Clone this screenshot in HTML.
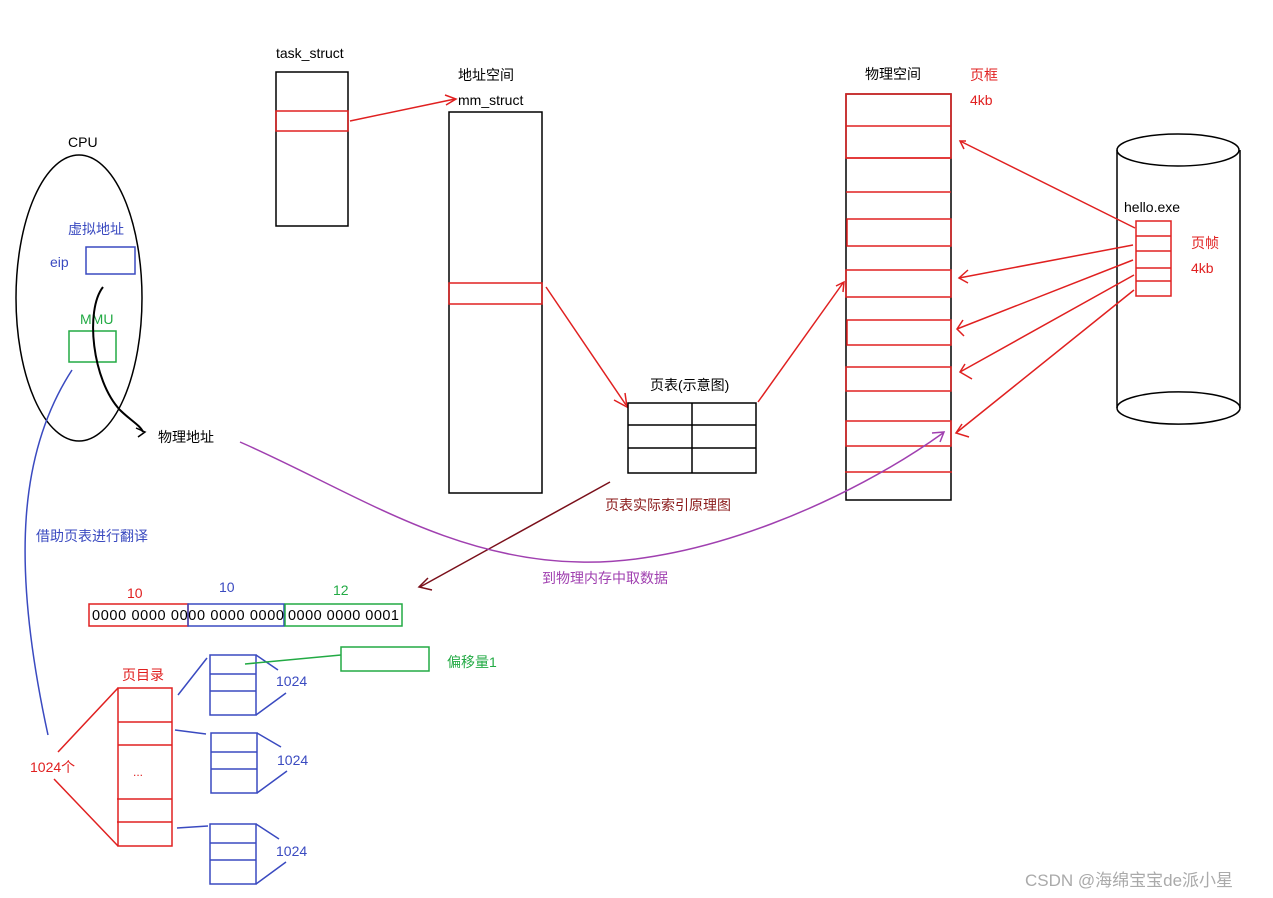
<!DOCTYPE html>
<html><head><meta charset="utf-8"><style>body{margin:0;background:#fff}svg{display:block}text{font-family:"Liberation Sans","Noto Sans CJK SC",sans-serif;font-size:14px}</style></head><body>
<svg width="1273" height="898" viewBox="0 0 1273 898" xmlns="http://www.w3.org/2000/svg">
<g fill="none" stroke-width="1.5">
<rect x="276" y="72" width="72" height="154" stroke="#000"/>
<rect x="276" y="111" width="72" height="20" stroke="#e02020"/>
<text x="276" y="58" fill="#000" stroke="none">task_struct</text>
<line x1="350" y1="121" x2="455" y2="99" stroke="#e02020"/>
<path d="M445 95 L456 99 L446 105" stroke="#e02020"/>
<text x="458" y="80" fill="#000" stroke="none">地址空间</text>
<text x="458" y="105" fill="#000" stroke="none">mm_struct</text>
<rect x="449" y="112" width="93" height="381" stroke="#000"/>
<rect x="449" y="283" width="93" height="21" stroke="#e02020"/>
<line x1="546" y1="287" x2="626" y2="405" stroke="#e02020"/>
<path d="M614 400 L627 407 L625 393" stroke="#e02020"/>
<text x="650" y="390" fill="#000" stroke="none">页表(示意图)</text>
<rect x="628" y="403" width="128" height="70" stroke="#000"/>
<line x1="628" y1="425" x2="756" y2="425" stroke="#000"/>
<line x1="628" y1="448" x2="756" y2="448" stroke="#000"/>
<line x1="692" y1="403" x2="692" y2="473" stroke="#000"/>
<line x1="758" y1="402" x2="843" y2="283" stroke="#e02020"/>
<path d="M836 286 L844 282 L843 292" stroke="#e02020"/>
<text x="605" y="510" fill="#8b1a1a" stroke="none">页表实际索引原理图</text>
<line x1="610" y1="482" x2="420" y2="587" stroke="#7a0f1a"/>
<path d="M428 578 L419 587 L432 590" stroke="#7a0f1a"/>
<text x="865" y="79" fill="#000" stroke="none">物理空间</text>
<text x="970" y="80" fill="#e02020" stroke="none">页框</text>
<text x="970" y="105" fill="#e02020" stroke="none">4kb</text>
<rect x="846" y="94" width="105" height="406" stroke="#000"/>
<g stroke="#e02020">
<rect x="846" y="94" width="105" height="64"/>
<line x1="846" y1="126" x2="951" y2="126"/>
<line x1="846" y1="192" x2="951" y2="192"/>
<line x1="846" y1="158" x2="951" y2="158"/>
<rect x="847" y="219" width="104" height="27"/>
<rect x="846" y="270" width="105" height="27"/>
<rect x="847" y="320" width="104" height="25"/>
<rect x="846" y="367" width="105" height="24"/>
<rect x="846" y="421" width="105" height="25"/>
<line x1="845" y1="472" x2="952" y2="472"/>
</g>
<path d="M1117 150 L1117 408 M1240 150 L1240 408" stroke="#000"/>
<ellipse cx="1178" cy="150" rx="61" ry="16" stroke="#000"/>
<path d="M1117 408 A61 16 0 0 0 1240 408 A61 16 0 0 0 1117 408" stroke="#000"/>
<text x="1124" y="212" fill="#000" stroke="none">hello.exe</text>
<text x="1191" y="248" fill="#e02020" stroke="none">页帧</text>
<text x="1191" y="273" fill="#e02020" stroke="none">4kb</text>
<g stroke="#e02020">
<rect x="1136" y="221" width="35" height="75"/>
<line x1="1136" y1="236" x2="1171" y2="236"/>
<line x1="1136" y1="251" x2="1171" y2="251"/>
<line x1="1136" y1="268" x2="1171" y2="268"/>
<line x1="1136" y1="281" x2="1171" y2="281"/>
<line x1="1135" y1="228" x2="960" y2="141"/><path d="M966 141 L960 141 L964 149"/>
<line x1="1133" y1="245" x2="959" y2="278"/><path d="M968 270 L959 278 L968 283"/>
<line x1="1133" y1="260" x2="957" y2="329"/><path d="M963 320 L957 329 L964 336"/>
<line x1="1134" y1="275" x2="960" y2="372"/><path d="M965 364 L960 372 L972 379"/>
<line x1="1134" y1="290" x2="956" y2="433"/><path d="M962 424 L956 433 L969 437"/>
</g>
<text x="68" y="147" fill="#000" stroke="none">CPU</text>
<ellipse cx="79" cy="298" rx="63" ry="143" stroke="#000"/>
<text x="68" y="234" fill="#3a4ac0" stroke="none">虚拟地址</text>
<text x="50" y="267" fill="#3a4ac0" stroke="none">eip</text>
<rect x="86" y="247" width="49" height="27" stroke="#3a4ac0"/>
<text x="80" y="324" fill="#22aa44" stroke="none">MMU</text>
<rect x="69" y="331" width="47" height="31" stroke="#22aa44"/>
<path d="M103 287 C85 310 92 380 120 410 C130 420 140 425 143 432" stroke="#000" stroke-width="2"/>
<path d="M136 428 L145 432 L138 437" stroke="#000"/>
<text x="158" y="442" fill="#000" stroke="none">物理地址</text>
<path d="M240 442 C350 490 450 560 580 562 C700 565 850 500 943 433" stroke="#a040b0"/>
<path d="M932 433 L944 432 L940 442" stroke="#a040b0"/>
<text x="542" y="583" fill="#a040b0" stroke="none">到物理内存中取数据</text>
<path d="M72 370 C20 450 10 560 48 735" stroke="#3a4ac0"/>
<text x="36" y="541" fill="#3a4ac0" stroke="none">借助页表进行翻译</text>
<text x="127" y="598" fill="#e02020" stroke="none">10</text>
<text x="219" y="592" fill="#3a4ac0" stroke="none">10</text>
<text x="333" y="595" fill="#22aa44" stroke="none">12</text>
<rect x="89" y="604" width="99" height="22" stroke="#e02020"/>
<rect x="188" y="604" width="96" height="22" stroke="#3a4ac0"/>
<rect x="285" y="604" width="117" height="22" stroke="#22aa44"/>
<text x="92" y="620" fill="#000" stroke="none" style="font-size:14.5px" textLength="192">0000 0000 0000 0000 0000</text>
<text x="288" y="620" fill="#000" stroke="none" style="font-size:14.5px" textLength="111">0000 0000 0001</text>
<text x="122" y="680" fill="#e02020" stroke="none">页目录</text>
<g stroke="#e02020">
<rect x="118" y="688" width="54" height="158"/>
<line x1="118" y1="722" x2="172" y2="722"/>
<line x1="118" y1="745" x2="172" y2="745"/>
<line x1="117" y1="799" x2="172" y2="799"/>
<line x1="117" y1="822" x2="172" y2="822"/>
<line x1="58" y1="752" x2="118" y2="688"/>
<line x1="54" y1="779" x2="118" y2="846"/>
</g>
<text x="133" y="776" fill="#e02020" stroke="none" style="font-size:12px">...</text>
<text x="30" y="772" fill="#e02020" stroke="none">1024个</text>
<g stroke="#3a4ac0">
<rect x="210" y="655" width="46" height="60"/><line x1="210" y1="674" x2="256" y2="674"/><line x1="210" y1="691" x2="256" y2="691"/>
<path d="M256 655 L278 670 M256 715 L286 693 M178 695 L207 658"/>
<rect x="211" y="733" width="46" height="60"/><line x1="211" y1="752" x2="257" y2="752"/><line x1="211" y1="769" x2="257" y2="769"/>
<path d="M257 733 L281 747 M257 793 L287 771 M175 730 L206 734"/>
<rect x="210" y="824" width="46" height="60"/><line x1="210" y1="843" x2="256" y2="843"/><line x1="210" y1="860" x2="256" y2="860"/>
<path d="M256 824 L279 839 M256 884 L286 862 M177 828 L208 826"/>
</g>
<text x="276" y="686" fill="#3a4ac0" stroke="none">1024</text>
<text x="277" y="765" fill="#3a4ac0" stroke="none">1024</text>
<text x="276" y="856" fill="#3a4ac0" stroke="none">1024</text>
<rect x="341" y="647" width="88" height="24" stroke="#22aa44"/>
<line x1="245" y1="664" x2="341" y2="655" stroke="#22aa44"/>
<text x="447" y="667" fill="#22aa44" stroke="none">偏移量1</text>
<text x="1025" y="886" fill="#aaa" stroke="none" style="font-size:17px">CSDN @海绵宝宝de派小星</text>
</g>
</svg>
</body></html>
